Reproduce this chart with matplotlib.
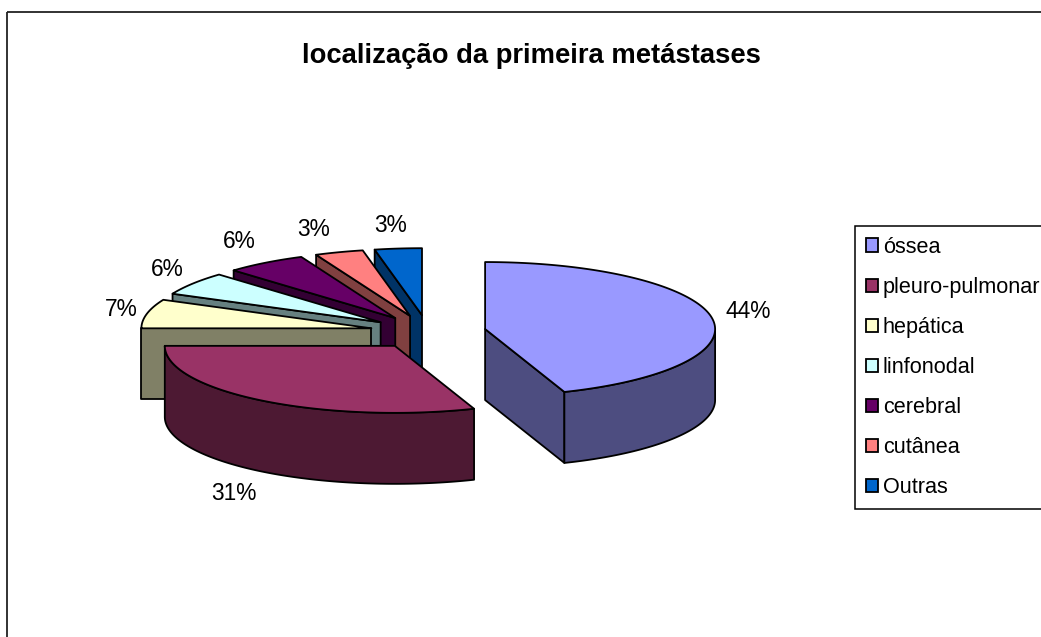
import numpy as np
import matplotlib
matplotlib.use("Agg")
import matplotlib.pyplot as plt
from matplotlib.patches import Polygon, Patch, Rectangle

title = "localização da primeira metástases"
categories = ["óssea", "pleuro-pulmonar", "hepática", "linfonodal", "cerebral", "cutânea", "Outras"]
values = [44.4, 30.6, 7.0, 5.6, 5.7, 3.4, 3.3]
top_colors = ["#9999FF", "#993366", "#FFFFCC", "#CCFFFF", "#660066", "#FF8080", "#0066CC"]
side_colors = ["#4D4D80", "#4D1933", "#808066", "#668080", "#330033", "#804040", "#003366"]

# layout (pixels)
CX, CY, RX, RY, DEPTH, EXPLODE = 428, 332, 230, 67, 71, 58
label_pos = [(748, 312), (234, 493), (121, 310), (167, 270), (239, 241), (314, 230), (391, 226)]
FONT = ["Liberation Sans", "DejaVu Sans"]
EDGE = dict(edgecolor="black", linewidth=1.3, joinstyle="round")

fig = plt.figure(figsize=(10.41, 6.37), dpi=100, facecolor="white")
ax = fig.add_axes([0, 0, 1, 1])
ax.set_xlim(0, 1041)
ax.set_ylim(637, 0)
ax.axis("off")

ax.add_patch(Rectangle((7, 12), 1100, 700, fill=False, edgecolor="#222222", linewidth=1.3))


def point(apex, deg, dy=0):
    t = np.radians(deg)
    return apex[0] + RX * np.sin(t), apex[1] - RY * np.cos(t) + dy


def arc(apex, a, b, dy=0):
    ts = np.linspace(a, b, max(2, int(abs(b - a)) + 2))
    return [point(apex, t, dy) for t in ts]


fractions = np.array(values) / sum(values)
edges = np.concatenate([[0], np.cumsum(fractions) * 360])
slices = []
for i in range(len(values)):
    a, b = edges[i], edges[i + 1]
    mid = np.radians((a + b) / 2)
    apex = (CX + EXPLODE * np.sin(mid), CY - EXPLODE * RY / RX * np.cos(mid))
    slices.append((i, a, b, apex))

for i, a, b, apex in reversed(slices):
    side = side_colors[i]
    base = (apex[0], apex[1] + DEPTH)
    # cut face turned towards the viewer
    if 180 < a < 360:
        p = point(apex, a)
        ax.add_patch(Polygon([apex, p, (p[0], p[1] + DEPTH), base], facecolor=side, **EDGE))
    if 0 < b < 180:
        p = point(apex, b)
        ax.add_patch(Polygon([apex, p, (p[0], p[1] + DEPTH), base], facecolor=side, **EDGE))
    # outer rim
    lo, hi = max(a, 90), min(b, 270)
    if lo < hi:
        ax.add_patch(Polygon(arc(apex, lo, hi) + arc(apex, hi, lo, DEPTH), facecolor=side, **EDGE))
    # top face
    ax.add_patch(Polygon([apex] + arc(apex, a, b), facecolor=top_colors[i], **EDGE))

for v, (x, y) in zip(values, label_pos):
    ax.text(x, y, f"{v:.0f}%", ha="center", va="center", fontsize=16.4, family=FONT, color="black")

ax.text(531, 56, title, ha="center", va="center", fontsize=19.7, fontweight="bold", family=FONT, color="black")

handles = [Patch(facecolor=c, edgecolor="black", linewidth=1.3) for c in top_colors]
leg = ax.legend(handles, categories, loc="upper left", bbox_to_anchor=(855, 226),
                bbox_transform=ax.transData, borderaxespad=0, fancybox=False,
                prop={"family": FONT, "size": 15.6}, handlelength=0.58, handleheight=0.58,
                handletextpad=0.2, labelspacing=0.88, borderpad=0.5, framealpha=1)
leg.get_frame().set_edgecolor("black")
leg.get_frame().set_linewidth(1.1)

fig.savefig("out.png", dpi=100, facecolor="white")
